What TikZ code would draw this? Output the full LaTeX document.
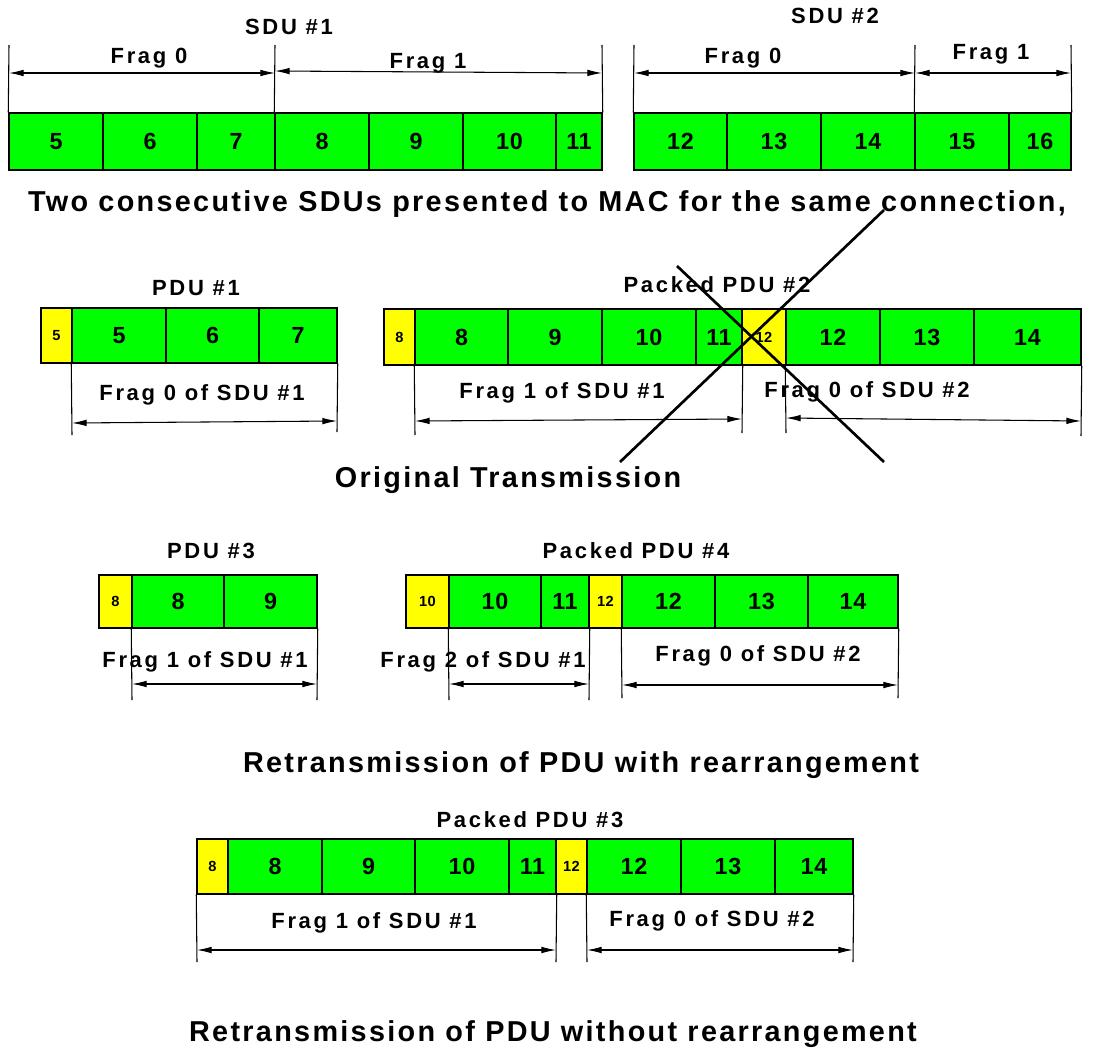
\documentclass[tikz,border=0pt]{standalone}
\usepackage{fontspec}
\setmainfont{Liberation Sans}[LetterSpace=8]
\usetikzlibrary{arrows.meta}
\definecolor{cg}{HTML}{00FF00}
\definecolor{cy}{HTML}{FFFF00}
\newcommand\mycell[7]{\node[#1, minimum width={(#4-#3)*0.75pt}, minimum height={(#6-#5)*0.75pt}] (#2) at ({(#3+#4)/2},{(#5+#6)/2}) {#7};}
\tikzset{
  gc/.style={draw, fill=cg, line width=1.1pt, inner sep=0pt, font=\fontsize{17.5}{17.5}\selectfont\bfseries\addfontfeatures{LetterSpace=3}},
  yc/.style={draw, fill=cy, line width=1.1pt, inner sep=0pt, font=\fontsize{11}{11}\selectfont\bfseries\addfontfeatures{LetterSpace=3}},
  tlab/.style={inner sep=0pt, font=\fontsize{16.5}{16.5}\selectfont\bfseries\addfontfeatures{LetterSpace=12}},
  captxt/.style={inner sep=0pt, font=\bfseries\fontsize{21.6}{21.6}\selectfont},
  tickln/.style={line width=0.8pt},
  darr/.style={line width=0.8pt, {Latex[length=11pt,width=5pt]}-{Latex[length=11pt,width=5pt]}},
  xline/.style={line width=2pt}
}
\begin{document}
\begin{tikzpicture}[x=0.75pt,y=-0.75pt]
\useasboundingbox[fill=white] (0,0) rectangle (1093,1053);
% ---------- SDU #1 ----------
\mycell{gc}{a5}{9}{103}{113}{170}{5}
\mycell{gc}{a6}{103}{197}{113}{170}{6}
\mycell{gc}{a7}{197}{275}{113}{170}{7}
\mycell{gc}{a8}{275}{369}{113}{170}{8}
\mycell{gc}{a9}{369}{463}{113}{170}{9}
\mycell{gc}{a10}{463}{556}{113}{170}{10}
\mycell{gc}{a11}{556}{602}{113}{170}{11}
\node[tlab] (sdu1) at (289,27) {SDU \#1};
\coordinate (t1a) at (9,45);
\coordinate (t1b) at (275,45);
\coordinate (t1c) at (602,45);
\draw[tickln] (t1a) -- (a5.north west);
\draw[tickln] (t1b) -- (a8.north west);
\draw[tickln] (t1c) -- (a11.north east);
\coordinate (h1a) at (9,73);
\coordinate (h1b) at (275,73);
\coordinate (h1b2) at (275,71);
\coordinate (h1c) at (602,73);
\draw[darr] (h1a) -- (h1b);
\draw[darr] (h1b2) -- (h1c);
\node[tlab] (f10) at (149,58) {Frag 0};
\node[tlab] (f11) at (428,63) {Frag 1};
% ---------- SDU #2 ----------
\mycell{gc}{b12}{634}{727}{113}{170}{12}
\mycell{gc}{b13}{727}{821}{113}{170}{13}
\mycell{gc}{b14}{821}{915}{113}{170}{14}
\mycell{gc}{b15}{915}{1009}{113}{170}{15}
\mycell{gc}{b16}{1009}{1071}{113}{170}{16}
\node[tlab] (sdu2) at (835,16) {SDU \#2};
\coordinate (t2a) at (634,45);
\coordinate (t2b) at (915,45);
\coordinate (t2c) at (1071,45);
\draw[tickln] (t2a) -- (b12.north west);
\draw[tickln] (t2b) -- (b15.north west);
\draw[tickln] (t2c) -- (b16.north east);
\coordinate (h2a) at (634,73);
\coordinate (h2b) at (915,73);
\coordinate (h2c) at (1071,73);
\draw[darr] (h2a) -- (h2b);
\draw[darr] (h2b) -- (h2c);
\node[tlab] (f20) at (743,58) {Frag 0};
\node[tlab] (f21) at (991,54) {Frag 1};
\node[captxt] (cap1) at (547,204) {Two consecutive SDUs presented to MAC for the same connection,};
% ---------- PDU #1 ----------
\mycell{yc}{p5h}{41}{72}{308}{363}{5}
\mycell{gc}{p5}{72}{166}{308}{363}{5}
\mycell{gc}{p6}{166}{259}{308}{363}{6}
\mycell{gc}{p7}{259}{337}{308}{363}{7}
\node[tlab] (pdu1) at (196,288) {PDU \#1};
\coordinate (t3a) at (72,435);
\coordinate (t3b) at (337,432);
\draw[tickln] (p5.south west) -- (t3a);
\draw[tickln] (p7.south east) -- (t3b);
\coordinate (h3a) at (72,423);
\coordinate (h3b) at (337,421);
\draw[darr] (h3a) -- (h3b);
\node[tlab] (fp1) at (202,395) {Frag 0 of SDU \#1};
% ---------- Packed PDU #2 ----------
\mycell{yc}{q8h}{384}{415}{309}{365}{8}
\mycell{gc}{q8}{415}{508}{309}{365}{8}
\mycell{gc}{q9}{508}{602}{309}{365}{9}
\mycell{gc}{q10}{602}{696}{309}{365}{10}
\mycell{gc}{q11}{696}{742}{309}{365}{11}
\mycell{yc}{q12h}{742}{786}{309}{365}{12}
\mycell{gc}{q12}{786}{880}{309}{365}{12}
\mycell{gc}{q13}{880}{974}{309}{365}{13}
\mycell{gc}{q14}{974}{1081}{309}{365}{14}
\node[tlab] (pdu2) at (717,285) {Packed PDU \#2};
\coordinate (t4a) at (415,435);
\coordinate (t4b) at (742,433);
\coordinate (t4c) at (786,433);
\coordinate (t4d) at (1081,436);
\draw[tickln] (q8.south west) -- (t4a);
\draw[tickln] (q11.south east) -- (t4b);
\draw[tickln] (q12.south west) -- (t4c);
\draw[tickln] (q14.south east) -- (t4d);
\coordinate (h4a) at (415,421);
\coordinate (h4b) at (742,419);
\coordinate (h4c) at (786,418);
\coordinate (h4d) at (1081,421);
\draw[darr] (h4a) -- (h4b);
\draw[darr] (h4c) -- (h4d);
\node[tlab] (fq1) at (562,393) {Frag 1 of SDU \#1};
\node[tlab] (fq2) at (867,392) {Frag 0 of SDU \#2};
\coordinate (x1a) at (620,462);
\coordinate (x1b) at (884,210);
\coordinate (x2a) at (677,266);
\coordinate (x2b) at (884,462);
\draw[xline] (x1a) -- (x1b);
\draw[xline] (x2a) -- (x2b);
\node[captxt] (cap2) at (508,480) {Original Transmission};
% ---------- PDU #3 ----------
\mycell{yc}{r8h}{99}{132}{575}{628}{8}
\mycell{gc}{r8}{132}{224}{575}{628}{8}
\mycell{gc}{r9}{224}{317}{575}{628}{9}
\node[tlab] (pdu3) at (211,551) {PDU \#3};
\coordinate (t5a) at (132,700);
\coordinate (t5b) at (317,700);
\draw[tickln] (r8.south west) -- (t5a);
\draw[tickln] (r9.south east) -- (t5b);
\coordinate (h5a) at (132,684);
\coordinate (h5b) at (317,684);
\draw[darr] (h5a) -- (h5b);
\node[tlab] (fr1) at (205,662) {Frag 1 of SDU \#1};
% ---------- Packed PDU #4 ----------
\mycell{yc}{s10h}{406}{449}{575}{628}{10}
\mycell{gc}{s10}{449}{541}{575}{628}{10}
\mycell{gc}{s11}{541}{589}{575}{628}{11}
\mycell{yc}{s12h}{589}{622}{575}{628}{12}
\mycell{gc}{s12}{622}{715}{575}{628}{12}
\mycell{gc}{s13}{715}{808}{575}{628}{13}
\mycell{gc}{s14}{808}{898}{575}{628}{14}
\node[tlab] (pdu4) at (636,551) {Packed PDU \#4};
\coordinate (t6a) at (449,700);
\coordinate (t6b) at (589,700);
\coordinate (t6c) at (622,698);
\coordinate (t6d) at (898,698);
\draw[tickln] (s10.south west) -- (t6a);
\draw[tickln] (s11.south east) -- (t6b);
\draw[tickln] (s12.south west) -- (t6c);
\draw[tickln] (s14.south east) -- (t6d);
\coordinate (h6a) at (449,684);
\coordinate (h6b) at (589,684);
\coordinate (h6c) at (622,685);
\coordinate (h6d) at (898,685);
\draw[darr] (h6a) -- (h6b);
\draw[darr] (h6c) -- (h6d);
\node[tlab] (fs1) at (483,662) {Frag 2 of SDU \#1};
\node[tlab] (fs2) at (758,656) {Frag 0 of SDU \#2};
\node[captxt] (cap3) at (581,765) {Retransmission of PDU with rearrangement};
% ---------- Packed PDU #3 (no rearrangement) ----------
\mycell{yc}{u8h}{197}{228}{839}{894}{8}
\mycell{gc}{u8}{228}{322}{839}{894}{8}
\mycell{gc}{u9}{322}{415}{839}{894}{9}
\mycell{gc}{u10}{415}{509}{839}{894}{10}
\mycell{gc}{u11}{509}{556}{839}{894}{11}
\mycell{yc}{u12h}{556}{587}{839}{894}{12}
\mycell{gc}{u12}{587}{681}{839}{894}{12}
\mycell{gc}{u13}{681}{775}{839}{894}{13}
\mycell{gc}{u14}{775}{853}{839}{894}{14}
\node[tlab] (pdu5) at (530,820) {Packed PDU \#3};
\coordinate (t7a) at (197,962);
\coordinate (t7b) at (556,962);
\coordinate (t7c) at (587,962);
\coordinate (t7d) at (853,962);
\draw[tickln] (u8h.south west) -- (t7a);
\draw[tickln] (u11.south east) -- (t7b);
\draw[tickln] (u12.south west) -- (t7c);
\draw[tickln] (u14.south east) -- (t7d);
\coordinate (h7a) at (197,950);
\coordinate (h7b) at (556,950);
\coordinate (h7c) at (587,950);
\coordinate (h7d) at (853,950);
\draw[darr] (h7a) -- (h7b);
\draw[darr] (h7c) -- (h7d);
\node[tlab] (fu1) at (374,923) {Frag 1 of SDU \#1};
\node[tlab] (fu2) at (712,921) {Frag 0 of SDU \#2};
\node[captxt] (cap4) at (553,1034) {Retransmission of PDU without rearrangement};
\end{tikzpicture}
\end{document}
